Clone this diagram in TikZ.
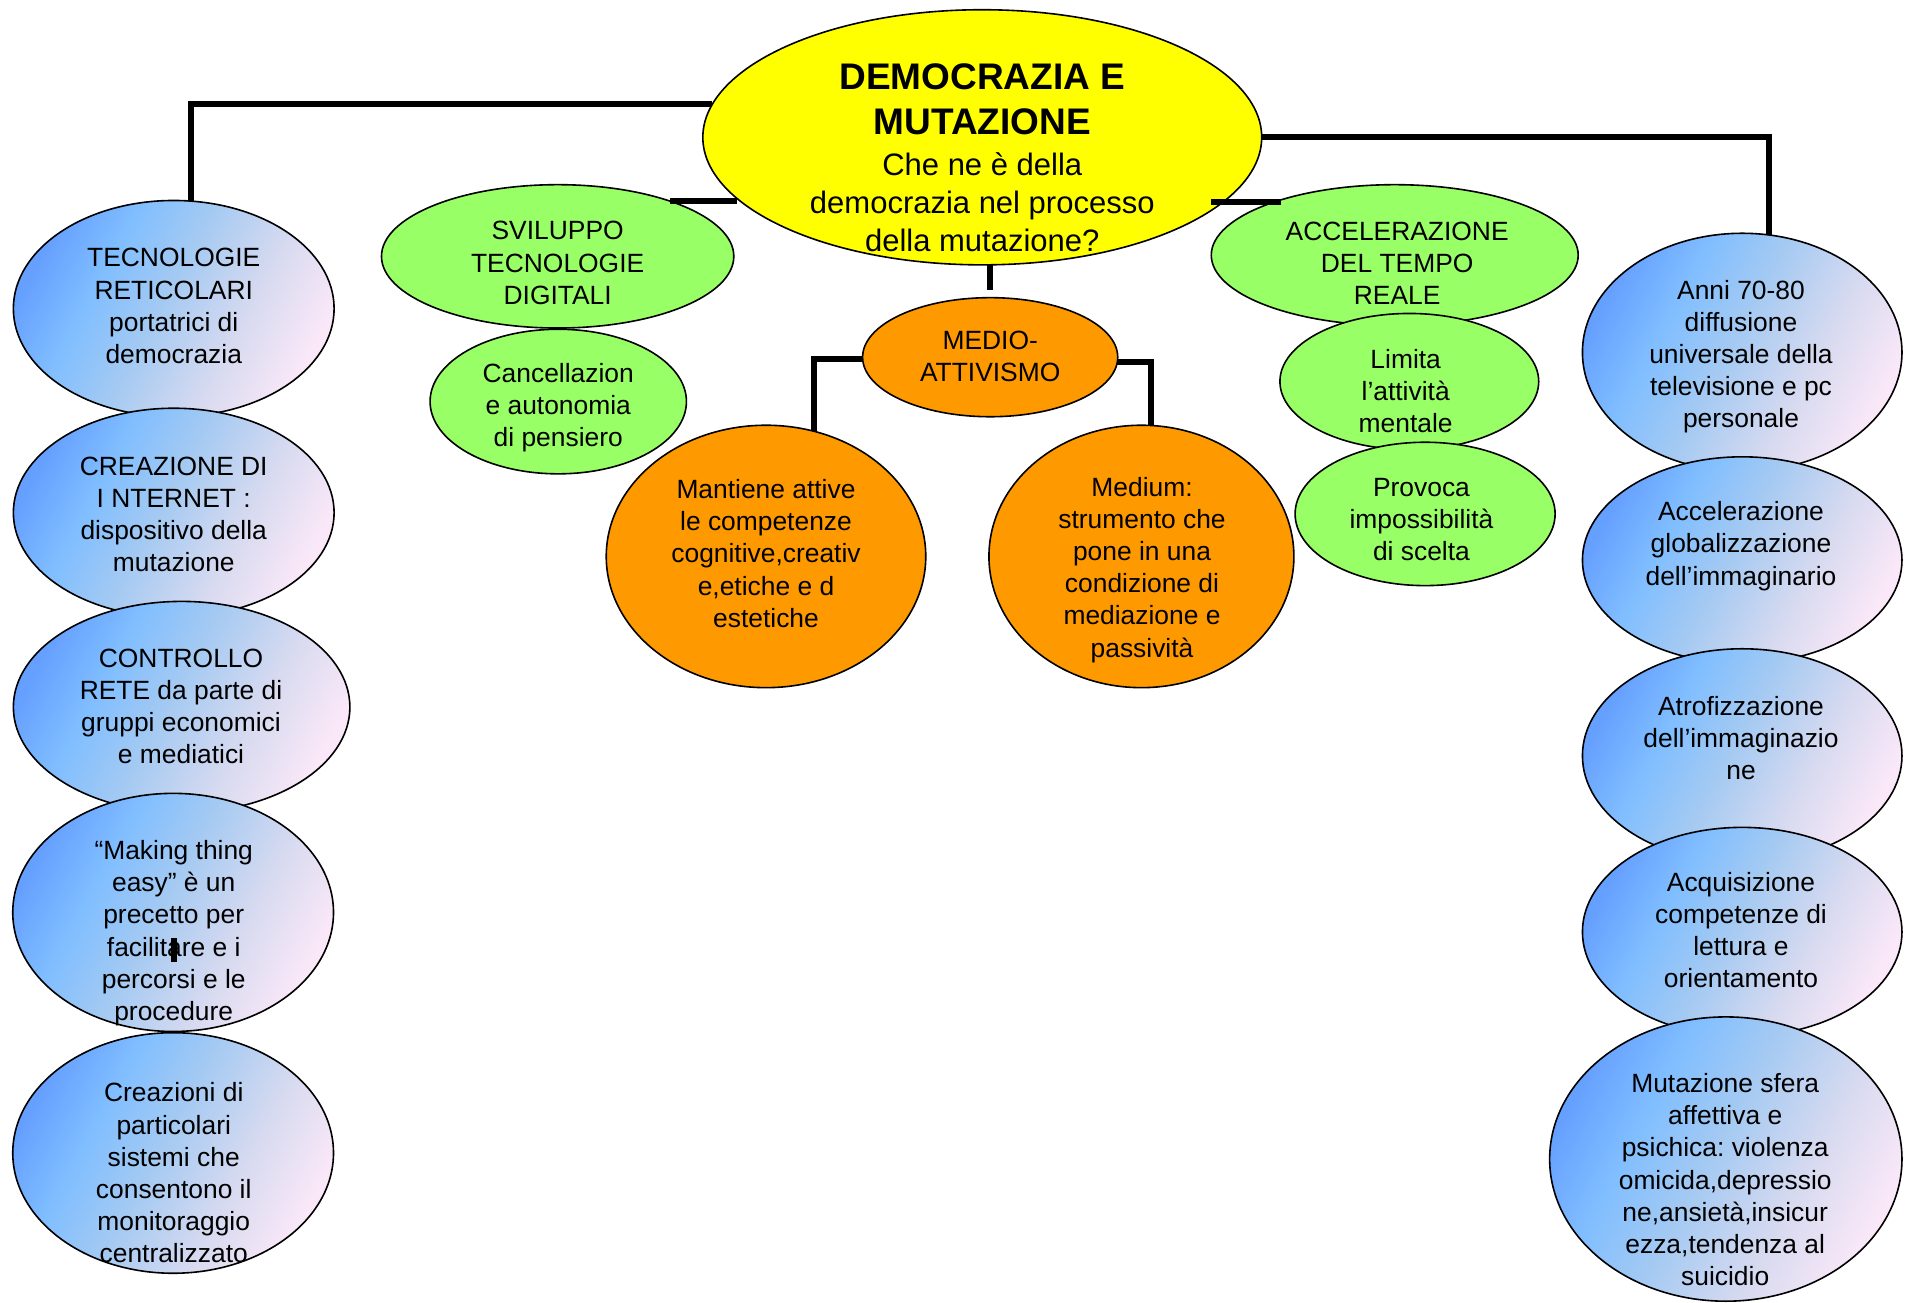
\documentclass[tikz,border=0pt]{standalone}
\usepackage{fontspec}
\setmainfont{Liberation Sans}
\frenchspacing
\usetikzlibrary{shapes.geometric}
\definecolor{yelc}{RGB}{255,255,0}
\definecolor{grnc}{RGB}{153,255,102}
\definecolor{orgc}{RGB}{255,153,0}
\definecolor{bpa}{RGB}{102,160,255}
\definecolor{bpb}{RGB}{128,190,255}
\definecolor{bpc}{RGB}{165,202,242}
\definecolor{bpd}{RGB}{215,218,240}
\definecolor{bpe}{RGB}{250,232,248}
\pgfdeclarehorizontalshading{bpshade}{100bp}{color(0bp)=(bpa); color(25bp)=(bpa); color(36bp)=(bpb); color(48bp)=(bpc); color(62bp)=(bpd); color(75bp)=(bpe); color(100bp)=(bpe)}
\newcommand\upx{0.6075pt}
\tikzset{
  ell/.style={ellipse, draw=black, line width=0.8pt, inner sep=0pt, outer sep=0pt},
  es/.style 2 args={minimum width={2*#1*\upx}, minimum height={2*#2*\upx}},
  yel/.style={ell, fill=yelc},
  grn/.style={ell, fill=grnc},
  org/.style={ell, fill=orgc},
  blu/.style={ell, shade, shading=bpshade, shading angle=-28},
  txt/.style={align=center, inner sep=0pt, font=\fontsize{13.2}{16.1}\selectfont},
  conn/.style={draw=black, line width=3pt, line join=miter}
}
\begin{document}
\begin{tikzpicture}[x=0.6075pt, y=-0.6075pt]
\useasboundingbox (0,0) rectangle (1568,1072);
% central
\node[yel, es={230}{105}] (main) at (808.5,113) {};
% green / orange middle
\node[grn, es={145}{59}] (svil) at (459,211) {};
\node[grn, es={105.5}{59.5}] (canc) at (459.5,330.5) {};
\node[org, es={105}{49}] (medio) at (815,294) {};
\node[org, es={131.5}{108}] (mant) at (630.5,458) {};
\node[org, es={125.5}{108}] (medium) at (939.5,458) {};
\node[grn, es={151}{58}] (acc) at (1148,210) {};
\node[grn, es={106.5}{56}] (lim) at (1160,314) {};
\node[grn, es={107}{59}] (prov) at (1173,423) {};
% left column
\node[blu, es={132}{89}] (tec) at (143,254) {};
\node[blu, es={132}{86}] (crea) at (143,422) {};
\node[blu, es={138.5}{87}] (contr) at (149.5,582) {};
\node[blu, es={132}{98}] (mak) at (142.5,751) {};
\node[blu, es={132}{99}] (creaz) at (142.5,949) {};
% right column
\node[blu, es={131.5}{98}] (anni) at (1434,290) {};
\node[blu, es={131.5}{85}] (accg) at (1434,461) {};
\node[blu, es={131.5}{88}] (atro) at (1434,622) {};
\node[blu, es={131.5}{86}] (acq) at (1434,767) {};
\node[blu, es={145}{117}] (mut) at (1420.5,954) {};
% connectors
\draw[conn] (main.173.3) -| (tec.81.9);
\draw[conn] (main.east) -| (anni.77.2);
\draw[conn] (svil.26.9) -- (svil.26.9 -| main.194.6);
\draw[conn] ([xshift=-6pt]main.345.4) -- (main.345.4 -| acc.154.7);
\draw[conn] (main.south -| medio.north) -- ([yshift=4pt]medio.north);
\draw[conn] (medio.181.6) -| (mant.69);
\draw[conn] (medio.358.4) -| (medium.86.6);
% texts
\node[txt, font=\fontsize{18.5}{22.5}\selectfont\bfseries] (tmain) at (808.5,81.5) {DEMOCRAZIA E\\MUTAZIONE};
\node[txt, font=\fontsize{15.5}{19.1}\selectfont] (tsub) at (808.5,166.5) {Che ne è della\\democrazia nel processo\\della mutazione?};
\node[txt] (ttec) at (143,252) {TECNOLOGIE\\RETICOLARI\\portatrici di\\democrazia};
\node[txt] (tcrea) at (143,423.5) {CREAZIONE DI\\I NTERNET :\\dispositivo della\\mutazione};
\node[txt] (tcontr) at (149,581.5) {CONTROLLO\\RETE da parte di\\gruppi economici\\e mediatici};
\node[txt] (tmak) at (143,768) {“Making thing\\easy” è un\\precetto per\\facilitare e i\\percorsi e le\\procedure};
\node[txt] (tcreaz) at (143,965.5) {Creazioni di\\particolari\\sistemi che\\consentono il\\monitoraggio\\centralizzato};
\node[txt] (tsvil) at (459,216.5) {SVILUPPO\\TECNOLOGIE\\DIGITALI};
\node[txt] (tcanc) at (459.5,335.5) {Cancellazion\\e autonomia\\di pensiero};
\node[txt] (tmedio) at (815,293.5) {MEDIO-\\ATTIVISMO};
\node[txt] (tmant) at (630.5,455.5) {Mantiene attive\\le competenze\\cognitive,creativ\\e,etiche e d\\estetiche};
\node[txt] (tmedium) at (940,469) {Medium:\\strumento che\\pone in una\\condizione di\\mediazione e\\passività};
\node[txt] (tacc) at (1150,216.5) {ACCELERAZIONE\\DEL TEMPO\\REALE};
\node[txt] (tlim) at (1157,322) {Limita\\l’attività\\mentale};
\node[txt] (tprov) at (1170,427.5) {Provoca\\impossibilità\\di scelta};
\node[txt] (tanni) at (1433,293.5) {Anni 70-80\\diffusione\\universale della\\televisione e pc\\personale};
\node[txt] (taccg) at (1433,449.5) {Accelerazione\\globalizzazione\\dell’immaginario};
\node[txt] (tatro) at (1433,607.5) {Atrofizzazione\\dell’immaginazio\\ne};
\node[txt] (tacq) at (1433,765.5) {Acquisizione\\competenze di\\lettura e\\orientamento};
\node[txt] (tmut) at (1420,971) {Mutazione sfera\\affettiva e\\psichica: violenza\\omicida,depressio\\ne,ansietà,insicur\\ezza,tendenza al\\suicidio};
% cursor mark
\fill[black] (141,772) rectangle (146,792);
\end{tikzpicture}
\end{document}
